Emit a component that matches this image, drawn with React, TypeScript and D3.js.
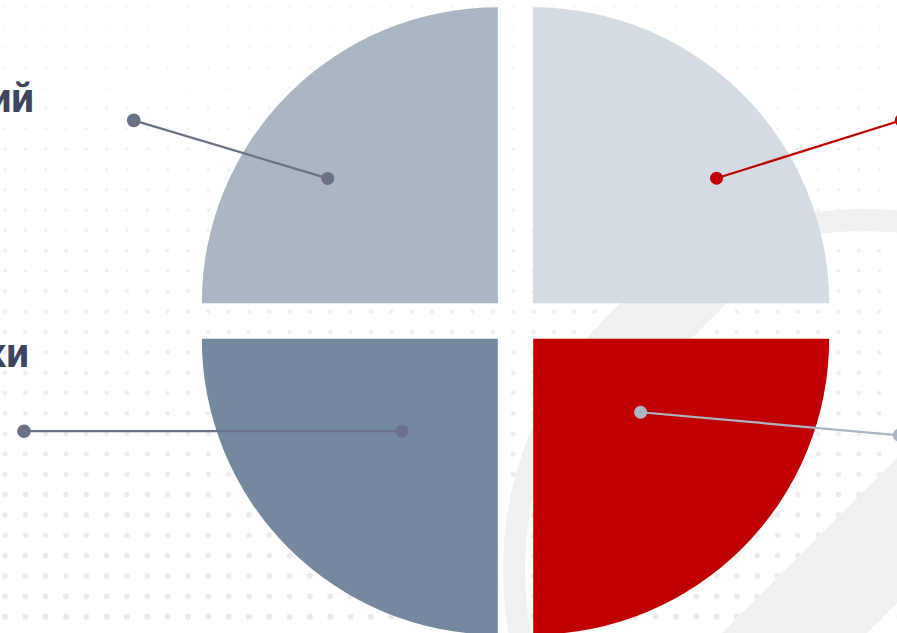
import React from "react";
import * as d3 from "d3";

// Pie data (clockwise from 12 o'clock): top-right, bottom-right, bottom-left, top-left
const categories = ["Правовой", "Социальный", "Финансовые риски", "Экономический"];
const values = [25, 25, 25, 25];
const sliceColors = ["#d5dbe3", "#c00000", "#7488a0", "#aab6c4"];
const markerColors = ["#c00000", "#aab6c4", "#6b7186", "#6b7186"];
// leader anchor inside each slice: angle (deg, clockwise from 12) and radius fraction
const anchorAngles = [55.7, 124.4, 226, 306.3];
const anchorRadii = [0.75, 0.44, 0.45, 0.713];

const W = 897;
const H = 633;

export default function App() {
  const cx = 515.5;
  const cy = 321;
  const R = 296;
  const explode = 25;

  const pie = d3.pie<number>().sort(null).value((d) => d)(values);
  const arc = d3.arc<d3.PieArcDatum<number>>().innerRadius(0).outerRadius(R);

  // leader geometry (outer dot offsets from anchor)
  const leaderDx = [185, 259, -378, -194];
  const leaderDy = [-58, 23, 0, -58];
  const labelAnchor = [
    { x: 930, y: 112 },
    { x: 930, y: 420 },
    { x: 29, y: 367 },
    { x: 34, y: 112 },
  ];

  // dotted background
  const step = 20.33;
  const xs = d3.range(5, W + 5, step);
  const ys = d3.range(454 - 22 * step, H + 5, step);
  const rScale = d3.scaleLinear().domain([0, H]).range([1.3, 3.0]);
  const oScale = d3.scaleLinear().domain([0, H]).range([0.35, 0.85]);

  // watermark
  const ringCx = 864;
  const ringCy = 570;
  const ringR = 350;
  const band1 = [
    [1355 - 200, 200],
    [1500 - 200, 200],
    [1500 - 1100, 1100],
    [1355 - 1100, 1100],
  ];
  const band2 = [
    [890 - 0, 0],
    [1030 - 0, 0],
    [1030 - 900, 900],
    [890 - 900, 900],
  ];
  const poly = (p: number[][]) => "M" + p.map((q) => q.join(",")).join("L") + "Z";

  return (
    <div
      style={{
        position: "fixed",
        left: 0,
        top: 0,
        width: W,
        height: H,
        overflow: "hidden",
        background: "#ffffff",
      }}
    >
      <svg width={W} height={H} viewBox={`0 0 ${W} ${H}`} style={{ display: "block" }}>
        <defs>
          <clipPath id="ringInner">
            <circle cx={ringCx} cy={ringCy} r={ringR - 8} />
          </clipPath>
        </defs>
        <rect width={W} height={H} fill="#ffffff" />
        <g>
          {ys.map((y, j) =>
            xs.map((x, i) => (
              <circle
                key={`d${i}-${j}`}
                cx={x}
                cy={y}
                r={rScale(y)}
                fill="#e6e6e6"
                opacity={oScale(y)}
              />
            ))
          )}
        </g>
        <g fill="#f1f1f1">
          <circle cx={ringCx} cy={ringCy} r={ringR} fill="none" stroke="#f1f1f1" strokeWidth={22} />
          <g clipPath="url(#ringInner)">
            <path d={poly(band1)} />
            <path d={poly(band2)} />
          </g>
        </g>
        <g transform={`translate(${cx},${cy})`}>
          {pie.map((p, i) => {
            const mid = (p.startAngle + p.endAngle) / 2;
            const tx = Math.sin(mid) * explode;
            const ty = -Math.cos(mid) * explode;
            return (
              <path
                key={`s${i}`}
                d={arc(p) || ""}
                transform={`translate(${tx},${ty})`}
                fill={sliceColors[i]}
              />
            );
          })}
        </g>
        <g>
          {pie.map((p, i) => {
            const mid = (p.startAngle + p.endAngle) / 2;
            const sx = cx + Math.sin(mid) * explode;
            const sy = cy - Math.cos(mid) * explode;
            const a = (anchorAngles[i] * Math.PI) / 180;
            const ax = sx + Math.sin(a) * anchorRadii[i] * R;
            const ay = sy - Math.cos(a) * anchorRadii[i] * R;
            const ox = ax + leaderDx[i];
            const oy = ay + leaderDy[i];
            const c = markerColors[i];
            return (
              <g key={`l${i}`}>
                <line x1={ax} y1={ay} x2={ox} y2={oy} stroke={c} strokeWidth={2.2} />
                <circle cx={ax} cy={ay} r={6.5} fill={c} />
                <circle cx={ox} cy={oy} r={6.8} fill={c} />
              </g>
            );
          })}
        </g>
        <g>
          {categories.map((name, i) =>
            labelAnchor[i].x < W ? (
              <text
                key={`t${i}`}
                x={labelAnchor[i].x}
                y={labelAnchor[i].y}
                textAnchor="end"
                fontFamily="Roboto, 'Open Sans', sans-serif"
                fontWeight={700}
                fontSize={40}
                fill="#3d4560"
              >
                {name}
              </text>
            ) : null
          )}
        </g>
      </svg>
    </div>
  );
}
